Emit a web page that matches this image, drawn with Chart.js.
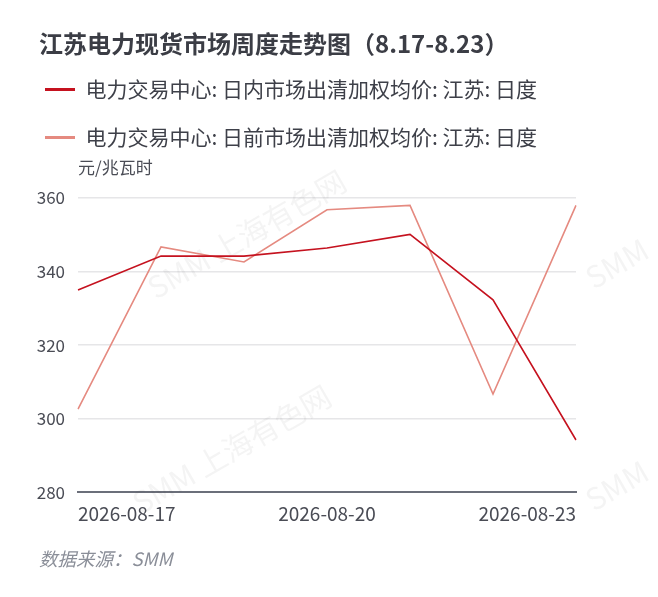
<!DOCTYPE html>
<html>
<head>
<meta charset="utf-8">
<script src="https://cdn.jsdelivr.net/npm/chart.js@4.4.1/dist/chart.umd.min.js"></script>
<style>
  html, body { margin: 0; padding: 0; background: #fff; }
  #wrap { width: 658px; height: 597px; position: relative; }
</style>
</head>
<body>
<div id="wrap"><canvas id="chart"></canvas></div>
<script>
const dates = ['2026-08-17', '2026-08-18', '2026-08-19', '2026-08-20', '2026-08-21', '2026-08-22', '2026-08-23'];
const intradayPrice = [335.0, 344.2, 344.2, 346.4, 350.1, 332.3, 294.2];
const dayAheadPrice = [302.6, 346.7, 342.6, 356.8, 358.0, 306.7, 358.0];
const seriesNames = ['电力交易中心: 日内市场出清加权均价: 江苏: 日度', '电力交易中心: 日前市场出清加权均价: 江苏: 日度'];
const yTicks = [280, 300, 320, 340, 360];

const FONT = '"Noto Sans CJK SC", "Noto Sans", sans-serif';

// title, unit, source and watermark text
const textPlugin = {
    id: 'texts',
    beforeInit(chart) {
        const fit = chart.legend.fit;
        chart.legend.fit = function () {
            fit.bind(chart.legend)();
            this.height += 40;
        };
    },
    beforeDatasetsDraw(chart) {
        const ctx = chart.ctx;
        ctx.save();
        ctx.fillStyle = 'rgba(60, 60, 70, 0.06)';
        ctx.font = '30px ' + FONT;
        ctx.textBaseline = 'middle';
        const marks = [[150, 290, 'SMM 上海有色网'], [135, 505, 'SMM 上海有色网'], [588, 280, 'SMM'], [588, 502, 'SMM']];
        marks.forEach(([x, y, t]) => {
            ctx.save();
            ctx.translate(x, y);
            ctx.rotate(-30 * Math.PI / 180);
            ctx.fillText(t, 0, 0);
            ctx.restore();
        });
        ctx.restore();
    },
    afterDraw(chart) {
        const ctx = chart.ctx;
        const area = chart.chartArea;
        ctx.save();
        ctx.textBaseline = 'middle';
        ctx.textAlign = 'left';
        ctx.fillStyle = '#3b3d45';
        ctx.font = 'bold 24px ' + FONT;
        ctx.fillText('江苏电力现货市场周度走势图（8.17-8.23）', 39, 44);
        ctx.fillStyle = '#4a4c55';
        ctx.font = '17px ' + FONT;
        ctx.fillText('元/兆瓦时', area.left, 168);
        ctx.fillStyle = '#8a8e98';
        ctx.font = 'italic 18.5px ' + FONT;
        ctx.fillText('数据来源：SMM', 39, 559);
        ctx.restore();
    }
};

new Chart(document.getElementById('chart'), {
    type: 'line',
    data: {
        labels: dates,
        datasets: [{
            label: seriesNames[0],
            data: intradayPrice,
            borderColor: '#c5121f',
            backgroundColor: '#c5121f',
            borderWidth: 1.6,
            pointRadius: 0,
            tension: 0
        }, {
            label: seriesNames[1],
            data: dayAheadPrice,
            borderColor: '#e58a80',
            backgroundColor: '#e58a80',
            borderWidth: 1.6,
            pointRadius: 0,
            tension: 0
        }]
    },
    options: {
        responsive: true,
        maintainAspectRatio: false,
        animation: false,
        layout: {
            padding: { top: 52, left: 18, right: 82, bottom: 62 }
        },
        plugins: {
            title: { display: false },
            tooltip: { enabled: false },
            legend: {
                position: 'top',
                align: 'start',
                labels: {
                    usePointStyle: true,
                    pointStyle: 'line',
                    pointStyleWidth: 30,
                    padding: 27,
                    color: '#3e4049',
                    font: { family: FONT, size: 21 },
                    generateLabels(chart) {
                        return chart.data.datasets.map((ds, i) => ({
                            text: ds.label,
                            strokeStyle: ds.borderColor,
                            fillStyle: ds.borderColor,
                            lineWidth: 3,
                            pointStyle: 'line',
                            fontColor: '#3e4049',
                            datasetIndex: i
                        }));
                    }
                }
            }
        },
        scales: {
            x: {
                offset: false,
                grid: { display: false, drawTicks: false },
                border: { display: true, color: '#6b6f7a', width: 2 },
                ticks: {
                    autoSkip: false,
                    maxRotation: 0,
                    align: 'inner',
                    padding: 10,
                    color: '#4a4c55',
                    font: { family: FONT, size: 19 },
                    callback(value, index) {
                        return index % 3 === 0 ? dates[index] : '';
                    }
                }
            },
            y: {
                min: yTicks[0],
                max: yTicks[yTicks.length - 1],
                afterFit(scale) { scale.width = 60; },
                afterBuildTicks(scale) { scale.ticks = yTicks.map(v => ({ value: v })); },
                grid: { color: '#e6e6e8', lineWidth: 1.5, drawTicks: false },
                border: { display: false },
                ticks: {
                    padding: 13,
                    color: '#4a4c55',
                    font: { family: FONT, size: 17 }
                }
            }
        }
    },
    plugins: [textPlugin]
});
</script>
</body>
</html>
